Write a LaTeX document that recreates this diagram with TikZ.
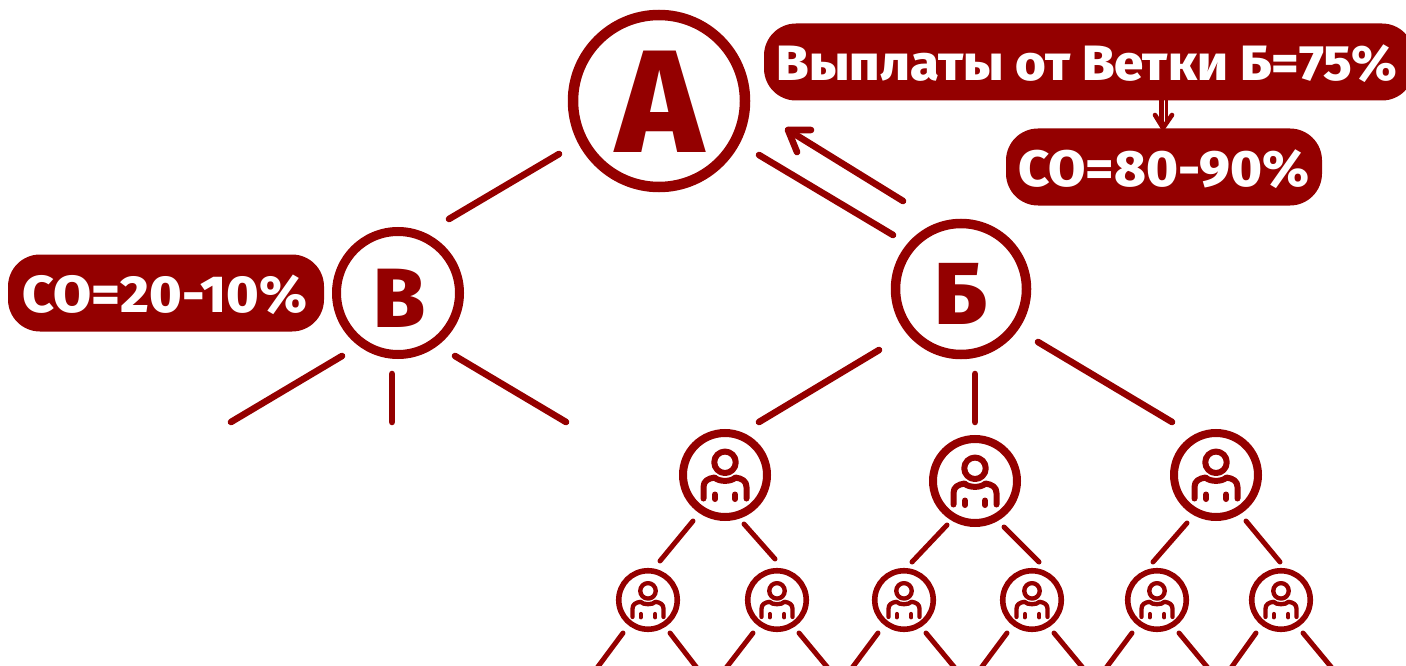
\documentclass[tikz,border=0pt]{standalone}
\usepackage{fontspec}
\setmainfont{Fira Sans}
\newfontfamily\heavy{Fira Sans ExtraBold}
\newfontfamily\pilltext[FakeStretch=1.06]{Fira Sans ExtraBold}
\definecolor{mr}{HTML}{940000}
\tikzset{
  ring/.style={circle,draw=mr,inner sep=0pt,fill=white},
  link/.style={draw=mr,line width=6.6pt,line cap=round,line join=round},
  pill/.style={fill=mr,rounded corners=32pt,inner sep=0pt,text=white},
  bigletter/.style={text=mr,inner sep=0pt},
  pilllabel/.style={text=white,inner sep=0pt,font=\pilltext\fontsize{51}{51}\selectfont},
}
\newcommand{\personicon}[4]{% x y scale name
  \begin{scope}[shift={(#1,#2)},scale=#3,draw=mr,line width=#3*6pt,line cap=round,line join=round]
    \node[circle,draw=mr,line width=#3*6pt,minimum size=#3*21.5pt,inner sep=0pt] (#4h) at (0,-12.7) {};
    \draw (-21.5,23.5) -- (-21.5,12) .. controls (-21.5,6) and (-17,3.5) .. (-10.5,2.5)
       .. controls (-6,7) and (6,7) .. (10.5,2.5)
       .. controls (17,3.5) and (21.5,6) .. (21.5,12) -- (21.5,23.5);
    \draw (-10,19.5) -- (-10,24);
    \draw (10,19.5) -- (10,24);
  \end{scope}
}
\begin{document}
\begin{tikzpicture}[x=1pt,y=-1pt]
\useasboundingbox (0,0) rectangle (1406,666);
% main circles
\node[ring,line width=10.5pt,minimum size=172pt] (A) at (659,101) {};
\node[bigletter,font=\heavy\fontsize{146}{146}\selectfont] (Alet) at (660,102) {А};
\node[ring,line width=9pt,minimum size=123pt] (V) at (398,293) {};
\node[bigletter,font=\heavy\fontsize{84}{84}\selectfont] (Vlet) at (399,298) {В};
\node[ring,line width=9.5pt,minimum size=131pt] (B) at (961,289) {};
\node[bigletter,font=\heavy\fontsize{88}{88}\selectfont] (Blet) at (961,294) {Б};
% pills
\node[pill,minimum width=650pt,minimum height=77pt] (P1) at (1089,62) {};
\node[pilllabel,font=\pilltext\fontsize{49.6}{49.6}\selectfont] (T1) at (1087,64) {Выплаты от Ветки Б=75\%};
\node[pill,minimum width=316pt,minimum height=77pt] (P2) at (1164,167) {};
\node[pilllabel] (T2) at (1164,169) {СО=80-90\%};
\node[pill,minimum width=316pt,minimum height=77pt] (P3) at (166,293) {};
\node[pilllabel,font=\pilltext\fontsize{52}{52}\selectfont] (T3) at (165,295) {СО=20-10\%};
% lines with free ends
\foreach \i/\xa/\ya/\xb/\yb in {
 1/559/154/449/219, 2/759/155/893/235,
 3/342/356/231/422, 4/392/374/392/422, 5/455/356/566/422,
 6/879/350/759/422, 7/975/374/975/422, 8/1038/342/1172/422}{
  \coordinate (s\i) at (\xa,\ya);
  \coordinate (e\i) at (\xb,\yb);
  \path[link] (s\i) -- (e\i);
}
\foreach \i/\xa/\ya/\xb/\yb in {
 1/693/521/660/561, 2/744/524/775/559, 3/947/525/912/562, 4/1004/527/1039/562,
 5/1187/523/1153/562, 6/1246/521/1280/562}{
  \coordinate (m\i) at (\xa,\ya);
  \coordinate (n\i) at (\xb,\yb);
  \path[link,line width=5pt] (m\i) -- (n\i);
}
\foreach \i/\xa/\xb in {1/623/597,2/670/697,3/753/726,4/799/828,5/878/852,6/926/955,
  7/1007/981,8/1054/1083,9/1132/1106,10/1179/1208,11/1256/1231,12/1303/1332}{
  \coordinate (u\i) at (\xa,633);
  \coordinate (w\i) at (\xb,668);
  \path[link,line width=5pt] (u\i) -- (w\i);
}
% payout arrow
\coordinate (ArS) at (903,201);
\coordinate (ArT) at (788,130);
\coordinate (ArL) at (811,130);
\coordinate (ArR) at (797,152);
\path[link] (ArS) -- (ArT);
\path[link] (ArL) -- (ArT) -- (ArR);
% small arrow between pills
\path[draw=mr,line width=5pt] (1161.5,100) -- (1161.5,126);
\path[draw=mr,line width=2.8pt] (1166.6,100) -- (1166.6,122);
\path[draw=mr,line width=4.6pt,line cap=round,line join=round] (1155,115) -- (1163,128) -- (1172,115);
% level 3
\foreach \n/\x/\y in {a/725/475,b/975/481,c/1216/475}{
  \node[ring,line width=8pt,minimum size=84pt] (L\n) at (\x,\y) {};
  \personicon{\x}{\y}{1}{I\n}
}
% level 4
\foreach \n/\x in {a/648,b/777,c/904,d/1032,e/1157,f/1281}{
  \node[ring,line width=5.6pt,minimum size=58.5pt] (M\n) at (\x,600) {};
  \personicon{\x}{600}{0.72}{J\n}
}
\end{tikzpicture}
\end{document}
